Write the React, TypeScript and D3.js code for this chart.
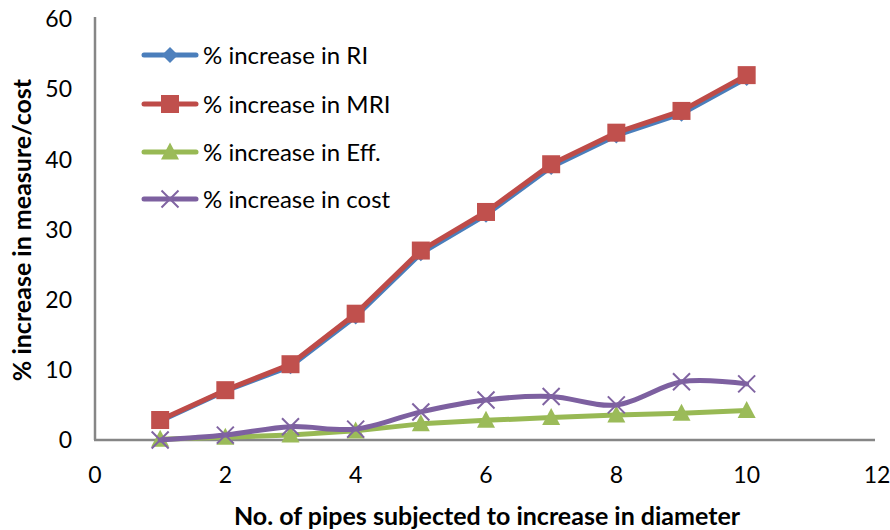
import React from "react";
import * as d3 from "d3";

const xValues = [1, 2, 3, 4, 5, 6, 7, 8, 9, 10];
const riValues = [2.7, 7.0, 10.5, 17.6, 26.6, 32.1, 38.9, 43.4, 46.5, 51.6];
const mriValues = [2.85, 7.1, 10.8, 18.0, 27.0, 32.5, 39.3, 43.8, 46.9, 52.0];
const effValues = [0.1, 0.4, 0.7, 1.3, 2.3, 2.8, 3.2, 3.55, 3.8, 4.2];
const costValues = [0, 0.7, 1.9, 1.55, 4.0, 5.7, 6.2, 5.0, 8.3, 8.0];
const xTicks = [0, 2, 4, 6, 8, 10, 12];
const yTicks = [0, 10, 20, 30, 40, 50, 60];
const seriesNames = ["% increase in RI", "% increase in MRI", "% increase in Eff.", "% increase in cost"];
const xTitle = "No. of pipes subjected to increase in diameter";
const yTitle = "% increase in measure/cost";

const W = 890, H = 530;
const FONT = "Lato, 'Open Sans', sans-serif";

type Marker = "diamond" | "square" | "triangle" | "x";

function MarkerShape({ kind, cx, cy, fill, stroke }: { kind: Marker; cx: number; cy: number; fill: string; stroke: string }) {
  if (kind === "diamond") {
    const r = 8;
    return <path d={`M${cx},${cy - r}L${cx + r},${cy}L${cx},${cy + r}L${cx - r},${cy}Z`} fill={fill} />;
  }
  if (kind === "square") {
    const s = 18;
    return <rect x={cx - s / 2} y={cy - s / 2} width={s} height={s} fill={fill} />;
  }
  if (kind === "triangle") {
    const w = 18, h = 17;
    return <path d={`M${cx},${cy - h / 2 - 1}L${cx + w / 2},${cy + h / 2 - 1}L${cx - w / 2},${cy + h / 2 - 1}Z`} fill={fill} />;
  }
  const r = 8.5;
  return (
    <path d={`M${cx - r},${cy - r}L${cx + r},${cy + r}M${cx - r},${cy + r}L${cx + r},${cy - r}`} stroke={stroke} strokeWidth={2} fill="none" />
  );
}

export default function App() {
  const left = 95, right = 877, top = 19, bottom = 440;
  const x = d3.scaleLinear().domain([0, 12]).range([left, right]);
  const y = d3.scaleLinear().domain([0, 60]).range([bottom, top]);

  const series = [
    { name: seriesNames[0], values: riValues, line: "#4A7EBB", fill: "#4F81BD", marker: "diamond" as Marker, smooth: false },
    { name: seriesNames[1], values: mriValues, line: "#BE4B48", fill: "#C0504D", marker: "square" as Marker, smooth: false },
    { name: seriesNames[2], values: effValues, line: "#98B954", fill: "#9BBB59", marker: "triangle" as Marker, smooth: false },
    { name: seriesNames[3], values: costValues, line: "#7D60A0", fill: "#8064A2", marker: "x" as Marker, smooth: true },
  ];

  const legendY = [55, 104, 152, 199];

  return (
    <svg width={W} height={H} style={{ position: "absolute", left: 0, top: 0, background: "#fff" }} fontFamily={FONT}>
      <rect x={0} y={0} width={W} height={H} fill="#fff" />
      <line x1={left} y1={top - 2} x2={left} y2={bottom} stroke="#868686" strokeWidth={2.5} />
      <line x1={left - 1} y1={bottom} x2={right - 2} y2={bottom} stroke="#868686" strokeWidth={2.5} />
      {yTicks.map((t) => (
        <text key={"y" + t} x={72} y={y(t)} dy="0.36em" textAnchor="end" fontSize={23} fill="#000">{t}</text>
      ))}
      {xTicks.map((t) => (
        <text key={"x" + t} x={x(t)} y={475} dy="0.36em" textAnchor="middle" fontSize={23} fill="#000">{t}</text>
      ))}
      <text x={487} y={516} dy="0.36em" textAnchor="middle" fontSize={25} fontWeight="bold" fill="#000">{xTitle}</text>
      <text transform={`translate(22,230) rotate(-90)`} dy="0.36em" textAnchor="middle" fontSize={25} fontWeight="bold" fill="#000">{yTitle}</text>

      {series.map((s) => {
        const pts: [number, number][] = xValues.map((xv, i) => [x(xv), y(s.values[i])]);
        const gen = d3.line().curve(s.smooth ? d3.curveCatmullRom.alpha(0) : d3.curveLinear);
        return (
          <g key={s.name}>
            <path d={gen(pts) || ""} fill="none" stroke={s.line} strokeWidth={5} strokeLinejoin="round" strokeLinecap="round" />
            {pts.map((p, i) => (
              <MarkerShape key={i} kind={s.marker} cx={p[0]} cy={p[1]} fill={s.fill} stroke={s.fill} />
            ))}
          </g>
        );
      })}

      {series.map((s, i) => (
        <g key={"leg" + i}>
          <line x1={144} x2={196} y1={legendY[i]} y2={legendY[i]} stroke={s.line} strokeWidth={5} strokeLinecap="round" />
          <MarkerShape kind={s.marker} cx={170} cy={legendY[i]} fill={s.fill} stroke={s.fill} />
          <text x={203} y={legendY[i]} dy="0.36em" fontSize={24} fill="#000">{s.name}</text>
        </g>
      ))}
    </svg>
  );
}
